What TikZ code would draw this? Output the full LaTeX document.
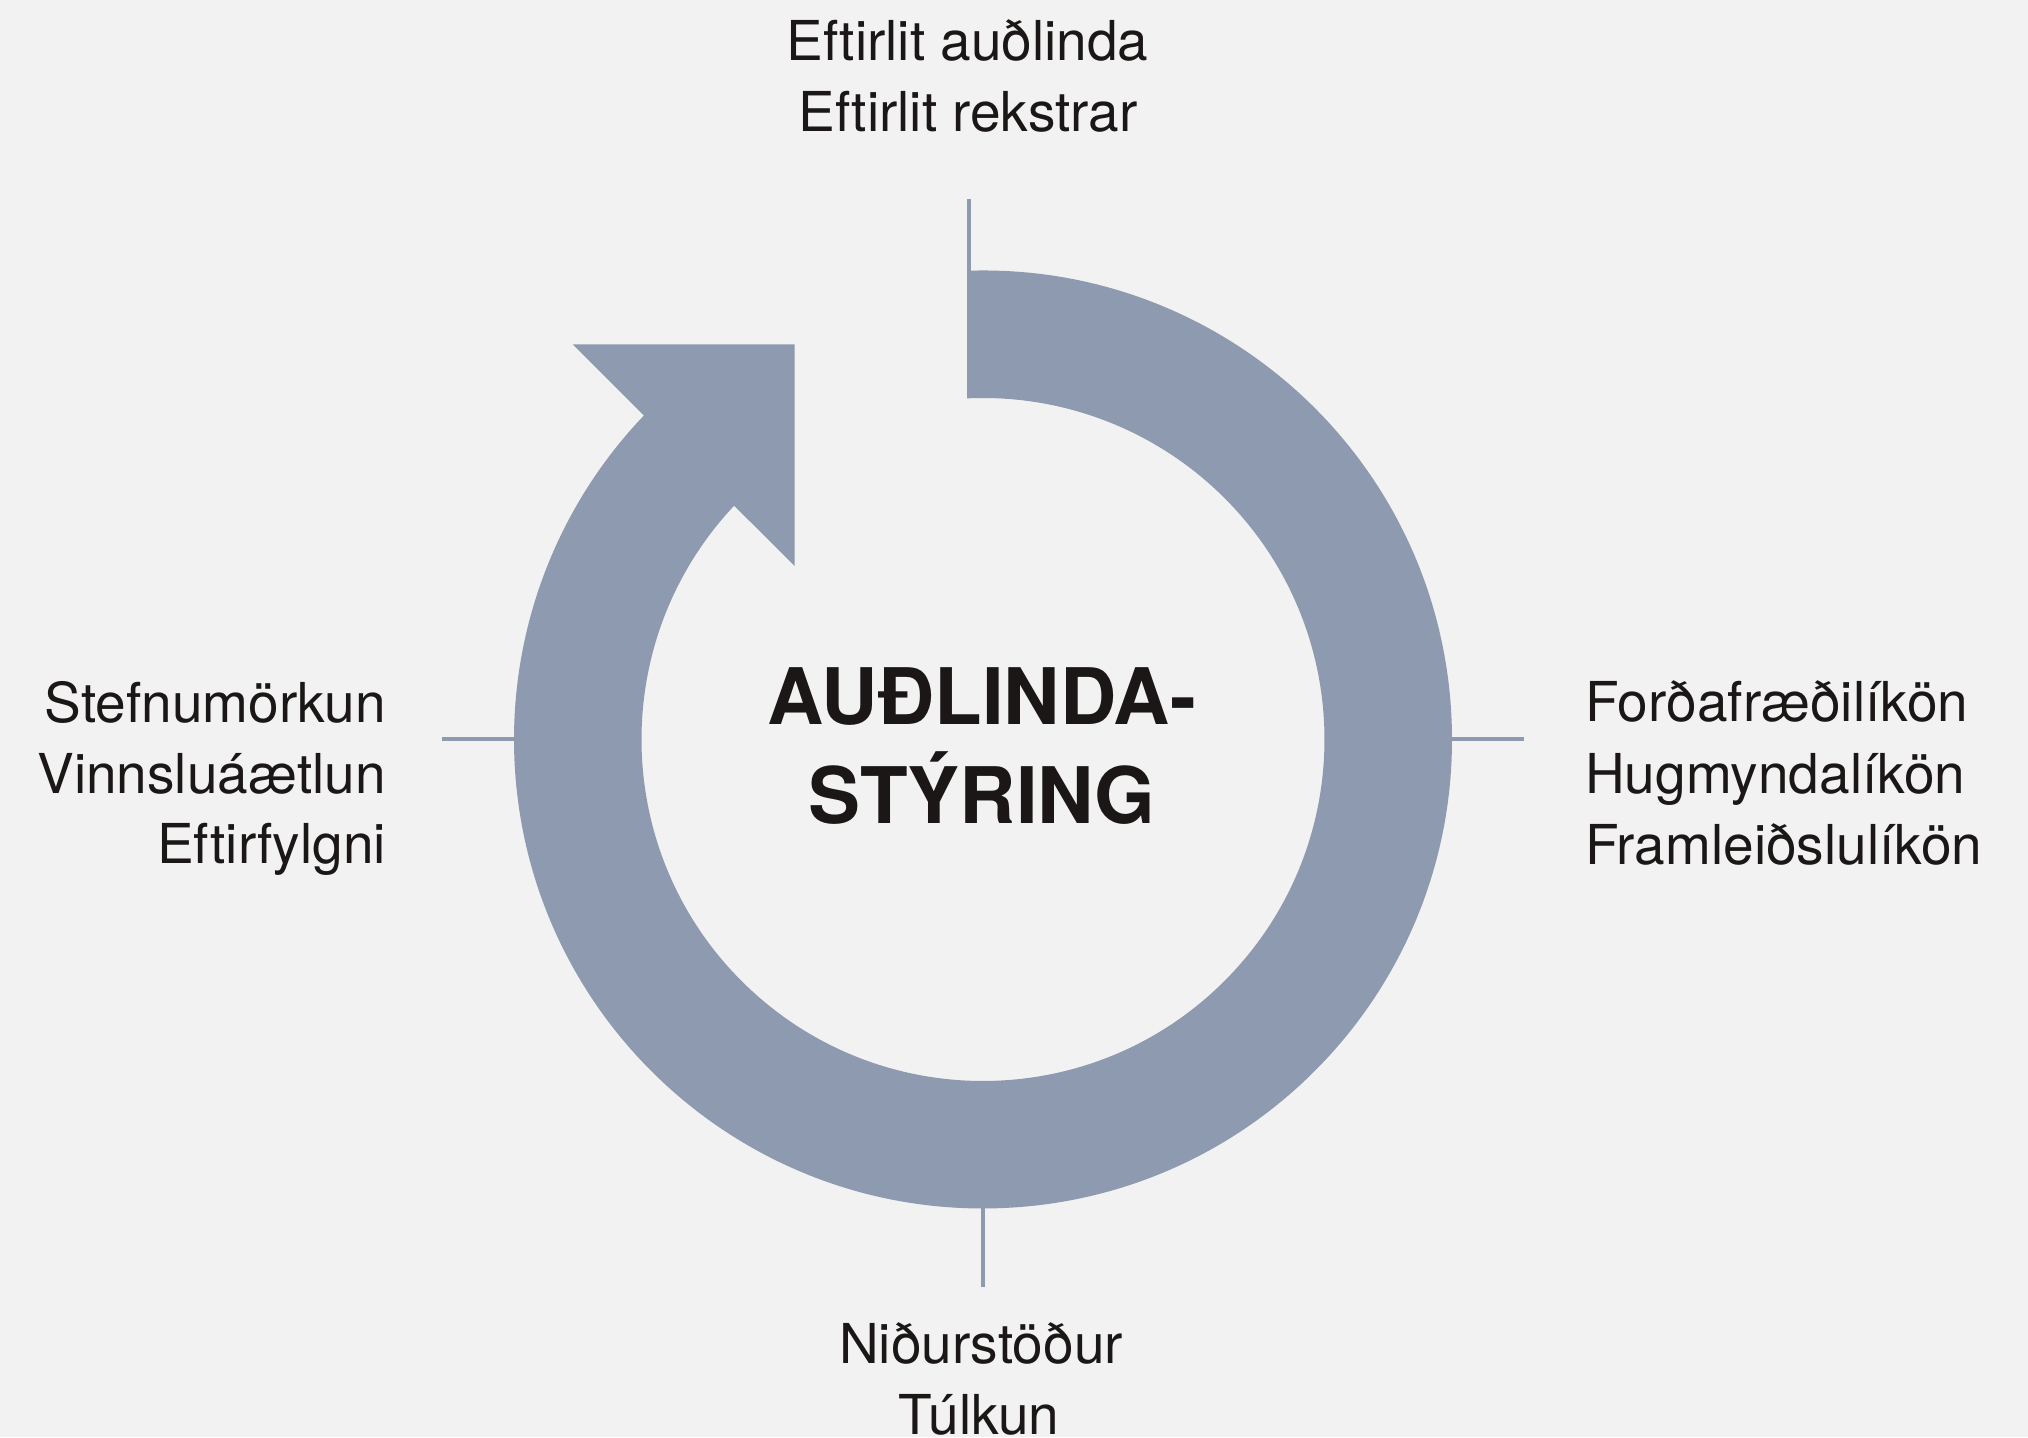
\documentclass[tikz,border=0pt]{standalone}
\usepackage{fontspec}
\setmainfont{TeX Gyre Heros}
\definecolor{bg}{HTML}{F2F2F2}
\definecolor{ringc}{HTML}{8E9AAF}
\definecolor{ink}{HTML}{1A1716}
\begin{document}
\begin{tikzpicture}[x=1pt,y=1pt,
  lbl/.style={font=\fontsize{55}{66}\selectfont, text=ink, inner sep=0pt},
  ttl/.style={font=\fontsize{78}{90}\selectfont\bfseries, text=ink, inner sep=0pt},
  tickline/.style={draw=ringc, line width=4pt}]
\fill[bg] (0,0) rectangle (2028,1437);
\useasboundingbox (0,0) rectangle (2028,1437);
\coordinate (O) at (983,697.5);
% ring arrow
\fill[ringc] (967,1166.23) arc[start angle=91.955, end angle=-223.69, radius=469]
  -- (572.7,1092.7) -- (794.7,1092.7) -- (794.7,871) -- (734.1,931.3)
  arc[start angle=-223.21, end angle=92.685, radius=341.5] -- cycle;
% ticks
\coordinate (tTa) at (969,1238); \coordinate (tTb) at (969,1166.2);
\coordinate (tLa) at (441.7,697.5); \coordinate (tLb) at (514,697.5);
\coordinate (tRa) at (1452,697.5); \coordinate (tRb) at (1524,697.5);
\coordinate (tBa) at (983,228.5); \coordinate (tBb) at (983,150.3);
\draw[tickline] (tTa) -- (tTb);
\draw[tickline] (tLa) -- (tLb);
\draw[tickline] (tRa) -- (tRb);
\draw[tickline] (tBa) -- (tBb);
% labels
\node[lbl, anchor=base] (top1) at (967.5,1376) {Eftirlit auðlinda};
\node[lbl, anchor=base] (top2) at (968,1305.3) {Eftirlit rekstrar};
\node[lbl, anchor=base east] (l1) at (386,714.3) {Stefnumörkun};
\node[lbl, anchor=base east] (l2) at (386,643.7) {Vinnsluáætlun};
\node[lbl, anchor=base east] (l3) at (386,573) {Eftirfylgni};
\node[lbl, anchor=base west] (r1) at (1585,715) {Forðafræðilíkön};
\node[lbl, anchor=base west] (r2) at (1585,643.7) {Hugmyndalíkön};
\node[lbl, anchor=base west] (r3) at (1585,572) {Framleiðslulíkön};
\node[lbl, anchor=base] (b1) at (981,73.7) {Niðurstöður};
\node[lbl, anchor=base] (b2) at (979,2.5) {Túlkun};
\node[ttl, anchor=base] (t1) at (982,712) {AUÐLINDA-};
\node[ttl, anchor=base] (t2) at (982,613.3) {STÝRING};
\end{tikzpicture}
\end{document}
